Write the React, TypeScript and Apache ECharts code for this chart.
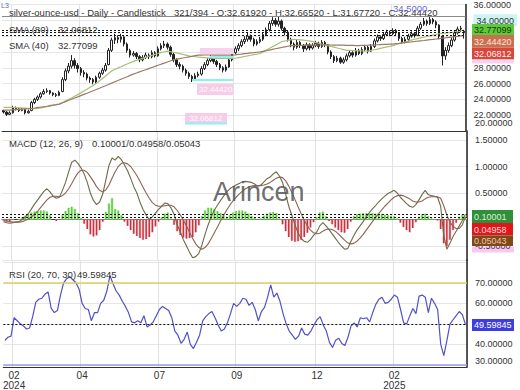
import React, { useEffect, useRef } from "react";
import * as echarts from "echarts";

// ---------- data ----------
const monthTicks: Array<[number, string]> = [
  [3, "02\n2024"], [25, "04"], [50, "07"], [75, "09"], [101, "12"], [126, "02\n2025"],
];

// [open, close, low, high]
const candles: number[][] = [
  [22.6,22.4,22.2,22.7],[22.4,22.1,21.9,22.5],[22.1,22.3,22.0,22.5],[22.3,22.9,22.2,23.2],[22.9,22.8,22.6,23.1],
  [22.8,22.6,22.4,22.9],[22.6,22.7,22.5,22.9],[22.7,22.3,22.1,22.8],[22.3,22.5,22.2,22.7],[22.6,23.6,22.5,23.8],
  [23.6,24.0,23.4,24.2],[24.0,24.3,23.8,24.5],[24.3,24.7,24.1,24.9],[24.7,25.0,24.6,25.3],[25.0,25.1,24.8,25.4],
  [25.1,24.8,24.6,25.2],[24.8,24.6,24.4,24.9],[24.6,24.5,24.3,24.8],[24.5,24.9,24.4,25.1],[25.0,26.5,24.9,26.8],
  [26.5,27.6,26.3,27.9],[27.6,28.2,27.3,28.6],[28.2,28.9,27.9,29.6],[28.9,28.3,27.9,29.2],[28.3,27.9,27.4,28.6],
  [27.9,27.4,27.0,28.1],[27.4,27.2,26.8,27.7],[27.2,26.7,26.4,27.4],[26.7,26.5,26.1,26.9],[26.5,26.2,25.9,26.7],
  [26.2,26.8,26.0,27.0],[26.8,27.3,26.6,27.5],[27.3,27.7,27.1,28.0],[27.7,28.3,27.5,28.6],[28.4,30.2,28.3,30.5],
  [30.2,31.5,30.0,31.8],[31.5,31.8,31.0,32.3],[31.8,31.6,31.1,32.1],[31.6,31.9,31.2,32.3],[31.9,31.0,30.7,32.0],
  [31.0,30.2,29.9,31.2],[30.2,29.6,29.3,30.4],[29.6,29.8,29.4,30.1],[29.8,29.4,29.1,30.0],[29.4,29.0,28.7,29.6],
  [29.0,29.3,28.8,29.6],[29.3,29.6,29.1,29.9],[29.6,29.4,29.1,29.8],[29.4,29.9,29.2,30.2],[29.9,29.5,29.3,30.1],
  [29.5,30.4,29.4,30.7],[30.4,30.8,30.2,31.1],[30.8,31.0,30.5,31.4],[31.0,30.6,30.3,31.2],[30.6,29.7,29.4,30.8],
  [29.7,29.0,28.7,29.9],[29.0,28.4,28.1,29.2],[28.4,28.2,27.8,28.7],[28.2,27.7,27.4,28.4],[27.7,27.3,27.0,27.9],
  [27.3,26.9,26.6,27.5],[26.9,26.6,26.2,27.1],[26.6,27.0,26.4,27.3],[27.0,27.2,26.8,27.5],[27.2,27.9,27.0,28.2],
  [27.9,28.4,27.7,28.7],[28.4,28.9,28.2,29.2],[28.9,29.2,28.7,29.6],[29.2,28.8,28.5,29.4],[28.8,28.4,28.1,29.0],
  [28.4,28.0,27.7,28.6],[28.0,27.7,27.4,28.2],[27.7,28.1,27.5,28.4],[28.1,29.0,28.0,29.3],[29.0,29.9,28.8,30.2],
  [29.9,30.4,29.7,30.7],[30.4,30.8,30.1,31.1],[30.8,31.3,30.6,31.6],[31.3,31.6,31.0,32.0],[31.6,32.0,31.3,32.4],
  [32.0,31.6,31.3,32.2],[31.6,31.0,30.7,31.8],[31.0,31.3,30.8,31.6],[31.3,31.6,31.1,31.9],[31.6,32.2,31.4,32.5],
  [32.2,32.8,32.0,33.1],[32.8,33.6,32.6,33.9],[33.6,34.0,33.3,34.4],[34.0,33.5,33.2,34.3],[33.5,33.9,33.2,34.5],
  [33.9,33.0,32.7,34.1],[33.0,32.5,32.1,33.2],[32.5,31.6,31.3,32.7],[31.6,31.0,30.6,31.8],[31.0,30.6,30.2,31.2],
  [30.6,31.2,30.4,31.5],[31.2,30.8,30.5,31.4],[30.8,30.4,30.0,31.0],[30.4,30.9,30.2,31.2],[30.9,30.5,30.2,31.1],
  [30.5,30.8,30.3,31.1],[30.8,31.1,30.6,31.4],[31.1,30.7,30.4,31.3],[30.7,31.2,30.5,31.5],[31.2,30.9,30.6,31.4],
  [30.9,30.0,29.7,31.0],[30.0,29.4,29.1,30.2],[29.4,28.9,28.6,29.6],[28.9,29.2,28.7,29.5],[29.2,28.7,28.5,29.4],
  [28.7,29.0,28.5,29.3],[29.0,29.5,28.8,29.8],[29.5,29.9,29.3,30.2],[29.9,29.6,29.3,30.1],[29.6,30.2,29.4,30.5],
  [30.2,29.8,29.6,30.4],[29.8,30.3,29.6,30.6],[30.3,30.6,30.1,30.9],[30.6,30.1,29.8,30.8],[30.1,30.7,30.0,31.0],
  [30.7,31.4,30.5,31.7],[31.4,31.9,31.2,32.2],[31.9,31.7,31.4,32.1],[31.7,32.2,31.5,32.5],[32.2,32.5,32.0,32.8],
  [32.5,32.3,32.0,32.7],[32.3,32.7,32.1,33.0],[32.7,32.4,32.1,32.9],[32.4,31.7,31.4,32.5],[31.7,31.3,31.0,31.9],
  [31.3,31.6,31.1,31.9],[31.6,32.0,31.4,32.3],[32.0,32.3,31.8,32.6],[32.3,32.1,31.8,32.5],[32.1,33.0,32.0,33.3],
  [33.0,33.5,32.8,33.8],[33.5,33.9,33.3,34.3],[33.9,33.6,33.3,34.1],[33.6,34.1,33.4,34.5],[34.1,33.8,33.5,34.3],
  [33.8,33.4,33.0,34.0],[33.4,32.0,31.6,33.5],[32.0,29.5,28.3,32.1],[29.5,30.2,29.0,30.6],[30.2,30.8,29.9,31.2],
  [30.8,31.5,30.6,31.8],[31.5,32.4,31.3,32.7],[32.4,32.9,32.2,33.2],[32.9,33.0,32.5,33.3],[32.6192,32.4442,31.6772,32.6652],
];

const sma40: number[] = [
  23.00,23.00,22.99,22.98,22.96,22.94,22.92,22.90,22.87,22.84,
  22.82,22.86,22.92,22.99,23.07,23.15,23.24,23.32,23.40,23.58,
  23.78,23.98,24.18,24.40,24.60,24.82,25.05,25.28,25.52,25.76,
  26.00,26.32,26.64,26.96,27.28,27.60,27.78,27.95,28.12,28.30,
  28.47,28.64,28.80,28.93,29.06,29.19,29.32,29.45,29.57,29.69,
  29.80,29.92,30.02,30.10,30.04,29.96,29.88,29.79,29.70,29.60,
  29.50,29.45,29.40,29.36,29.32,29.28,29.24,29.20,29.19,29.18,
  29.17,29.17,29.17,29.18,29.19,29.20,29.27,29.34,29.42,29.50,
  29.58,29.65,29.72,29.80,30.01,30.22,30.43,30.65,30.86,31.08,
  31.30,31.38,31.46,31.53,31.60,31.57,31.53,31.49,31.45,31.40,
  31.30,31.20,31.10,31.00,30.90,30.80,30.70,30.60,30.50,30.40,
  30.30,30.20,30.19,30.17,30.16,30.14,30.13,30.11,30.10,30.19,
  30.28,30.36,30.45,30.54,30.63,30.71,30.80,30.91,31.03,31.14,
  31.26,31.37,31.49,31.60,31.69,31.78,31.86,31.95,32.04,32.13,
  32.21,32.30,32.34,32.38,32.42,32.46,32.50,32.59,32.68,32.77,
];

const sma80: number[] = [
  22.60,22.63,22.65,22.68,22.71,22.74,22.77,22.80,22.83,22.87,
  22.91,22.96,23.01,23.07,23.13,23.20,23.27,23.33,23.40,23.55,
  23.71,23.86,24.02,24.17,24.32,24.48,24.63,24.78,24.94,25.09,
  25.25,25.40,25.56,25.73,25.89,26.05,26.22,26.38,26.55,26.71,
  26.87,27.04,27.20,27.34,27.48,27.62,27.75,27.89,28.03,28.17,
  28.31,28.45,28.58,28.72,28.86,29.00,29.08,29.15,29.23,29.30,
  29.38,29.45,29.53,29.60,29.60,29.61,29.61,29.61,29.60,29.60,
  29.60,29.60,29.60,29.60,29.60,29.64,29.69,29.73,29.78,29.82,
  29.87,29.91,29.96,30.00,30.08,30.16,30.24,30.32,30.40,30.48,
  30.56,30.64,30.72,30.80,30.81,30.82,30.83,30.84,30.85,30.85,
  30.86,30.87,30.88,30.89,30.90,30.89,30.88,30.87,30.86,30.85,
  30.85,30.84,30.83,30.82,30.81,30.80,30.82,30.84,30.85,30.87,
  30.89,30.91,30.93,30.95,30.96,30.98,31.00,31.05,31.09,31.14,
  31.18,31.23,31.27,31.32,31.36,31.41,31.45,31.50,31.55,31.59,
  31.64,31.69,31.74,31.78,31.83,31.88,31.93,31.97,32.02,32.07,
];

const macdLine: number[] = [
  -0.04,-0.06,-0.07,-0.06,-0.05,-0.04,0.00,0.05,0.11,0.20,
  0.29,0.37,0.45,0.53,0.58,0.52,0.44,0.40,0.42,0.55,
  0.70,0.90,1.08,1.12,1.06,0.97,0.86,0.70,0.50,0.36,
  0.28,0.33,0.48,0.75,1.02,1.16,1.12,1.19,1.13,1.03,
  0.92,0.78,0.62,0.50,0.33,0.19,0.08,0.00,0.05,0.12,
  0.19,0.25,0.31,0.30,0.22,0.10,-0.10,-0.23,-0.38,-0.50,
  -0.62,-0.72,-0.70,-0.64,-0.48,-0.28,-0.10,0.05,0.18,0.27,
  0.36,0.44,0.52,0.58,0.62,0.65,0.68,0.71,0.72,0.71,
  0.70,0.67,0.63,0.65,0.71,0.77,0.80,0.86,0.90,0.82,
  0.70,0.48,0.25,0.08,-0.10,-0.25,-0.36,-0.41,-0.43,-0.38,
  -0.30,-0.24,-0.12,-0.06,-0.12,-0.19,-0.27,-0.35,-0.43,-0.50,
  -0.56,-0.55,-0.42,-0.30,-0.20,-0.12,-0.04,0.05,0.13,0.20,
  0.26,0.33,0.39,0.44,0.49,0.52,0.55,0.50,0.42,0.36,
  0.30,0.25,0.23,0.28,0.37,0.47,0.55,0.47,0.45,0.44,
  0.42,0.25,-0.30,-0.56,-0.45,-0.32,-0.22,-0.12,-0.02,0.10,
];

const signalLine: number[] = [
  -0.02,-0.03,-0.04,-0.05,-0.05,-0.05,-0.04,-0.02,0.01,0.05,
  0.10,0.16,0.23,0.30,0.37,0.42,0.44,0.44,0.43,0.45,
  0.50,0.58,0.68,0.79,0.88,0.93,0.93,0.89,0.81,0.72,
  0.62,0.55,0.52,0.56,0.65,0.78,0.90,1.00,1.06,1.07,
  1.05,1.00,0.92,0.83,0.72,0.61,0.50,0.40,0.32,0.27,
  0.25,0.25,0.26,0.27,0.27,0.24,0.17,0.09,-0.01,-0.12,
  -0.24,-0.36,-0.46,-0.53,-0.56,-0.53,-0.46,-0.36,-0.25,-0.14,
  -0.03,0.08,0.18,0.27,0.35,0.42,0.48,0.53,0.58,0.61,
  0.63,0.64,0.64,0.64,0.65,0.67,0.70,0.74,0.78,0.80,
  0.79,0.73,0.63,0.51,0.38,0.24,0.11,-0.01,-0.12,-0.20,
  -0.25,-0.27,-0.26,-0.22,-0.19,-0.18,-0.19,-0.22,-0.27,-0.33,
  -0.39,-0.44,-0.46,-0.45,-0.41,-0.35,-0.28,-0.20,-0.12,-0.04,
  0.04,0.11,0.18,0.25,0.31,0.37,0.42,0.45,0.46,0.45,
  0.42,0.39,0.35,0.33,0.33,0.35,0.39,0.42,0.43,0.43,
  0.43,0.40,0.26,0.08,-0.05,-0.13,-0.17,-0.17,-0.10,0.05,
];

const histogram: number[] = [
  -0.02,-0.03,-0.03,-0.01,0.00,0.01,0.04,0.07,0.10,0.13,
  0.15,0.16,0.17,0.17,0.15,0.08,0.00,-0.03,-0.01,0.08,
  0.16,0.22,0.24,0.20,0.12,0.03,-0.08,-0.18,-0.28,-0.32,
  -0.30,-0.20,-0.04,0.14,0.30,0.40,0.20,0.17,0.08,-0.04,
  -0.12,-0.20,-0.27,-0.31,-0.35,-0.38,-0.37,-0.33,-0.24,-0.13,
  -0.04,0.04,0.11,0.13,0.02,-0.10,-0.22,-0.29,-0.34,-0.36,
  -0.35,-0.33,-0.24,-0.11,0.06,0.17,0.22,0.22,0.20,0.16,
  0.12,0.08,0.05,0.08,0.13,0.16,0.17,0.17,0.15,0.11,
  0.07,0.03,-0.01,0.02,0.07,0.11,0.13,0.14,0.12,0.02,
  -0.09,-0.22,-0.33,-0.40,-0.42,-0.41,-0.38,-0.33,-0.25,-0.15,
  -0.05,0.04,0.13,0.15,0.06,-0.03,-0.09,-0.15,-0.20,-0.24,
  -0.25,-0.18,-0.04,0.06,0.10,0.11,0.12,0.12,0.11,0.12,
  0.11,0.10,0.11,0.09,0.08,0.07,0.06,0.02,-0.06,-0.14,
  -0.20,-0.24,-0.16,-0.05,0.05,0.10,0.11,0.06,0.02,0.01,
  -0.02,-0.18,-0.45,-0.50,-0.38,-0.20,-0.06,0.05,0.09,0.05,
];

const rsi: number[] = [
  42.0,43.5,44.0,53.0,51.5,50.0,49.0,47.5,48.0,53.5,
  60.5,62.0,62.5,64.5,65.5,57.5,55.5,56.5,64.0,70.0,
  72.0,73.0,71.5,70.0,67.0,60.0,57.5,57.0,51.5,55.5,
  55.5,60.0,61.5,66.0,73.5,69.5,66.0,64.0,61.0,58.5,
  55.5,51.0,50.5,51.5,50.5,54.0,48.5,49.5,51.0,54.0,
  57.0,58.5,57.5,56.5,53.0,46.5,44.5,40.5,42.5,46.0,
  40.0,38.0,41.0,44.5,51.5,53.5,55.0,56.0,53.0,49.5,
  46.5,47.5,50.5,55.0,60.0,58.5,60.0,62.5,62.0,59.0,
  60.5,57.0,51.5,56.0,58.0,63.0,69.0,63.0,65.0,61.0,
  55.0,50.0,46.5,44.5,42.5,44.0,48.0,45.0,44.5,46.5,
  49.5,52.0,53.5,49.5,46.5,41.0,38.5,42.0,43.0,40.5,
  39.5,43.5,49.0,50.5,48.5,53.0,52.5,53.0,51.0,55.5,
  59.5,62.0,63.0,60.0,60.5,62.0,64.0,63.0,57.0,50.5,
  50.0,54.0,57.5,55.0,63.5,64.0,63.0,55.5,62.5,60.0,
  57.0,40.0,34.5,42.0,50.0,52.0,54.0,56.0,54.5,49.6,
];

// last values shown in legends / tags
const priceLevels = { sma40: 32.77099, close: 32.4442, sma80: 32.06812, high: 34.5 };
const macdLevels = { macd: 0.10001, signal: 0.04958, hist: 0.05043, lowTick: -0.5 };
const rsiLevels = { last: 49.59845, upper: 70, lower: 30 };

// ---------- layout ----------
const FONT = '"Liberation Sans", Arial, Helvetica, sans-serif';
const gridL = 2;
const gridR = 53;
const panes = [
  { top: 2, height: 129, min: 20, max: 36 },
  { top: 131, height: 129, min: -0.764, max: 1.67 },
  { top: 260, height: 108, min: 29, max: 81.1 },
];
const paneY = (p: number, v: number) =>
  panes[p].top + (panes[p].height * (panes[p].max - v)) / (panes[p].max - panes[p].min);

const categories = candles.map((_, i) => String(i));
const tickSet = new Set(monthTicks.map((t) => t[0]));
const tickLabel = new Map(monthTicks.map((t) => [t[0], t[1]] as [number, string]));
const isTick = (i: number) => tickSet.has(i);
const isMultiple = (v: number, step: number) => Math.abs(v / step - Math.round(v / step)) < 1e-6;

function txt(x: number, y: number, text: string, size: number, fill: string, extra: any = {}) {
  return {
    type: "text", x, y, z: 100, silent: true,
    style: { text, fill, fontSize: size, fontFamily: FONT, verticalAlign: "middle", ...extra },
  };
}
function box(x: number, y: number, w: number, h: number, fill: string, z = 99) {
  return { type: "rect", z, silent: true, shape: { x, y, width: w, height: h }, style: { fill } };
}

function buildOption(): any {
  const dotted = { type: [2, 2], color: "#111", width: 1 };
  const yBase = (gi: number) => ({
    type: "value", gridIndex: gi, position: "right", min: panes[gi].min, max: panes[gi].max,
    axisLine: { show: true, lineStyle: { color: "#222", width: 1.5 } },
    axisTick: { show: false },
    splitLine: { show: true, lineStyle: { color: "#e6e6e6", width: 1 } },
  });
  const lblBase = { fontSize: 9, color: "#333", fontFamily: FONT, margin: 8 };

  const xAxes: any[] = [0, 1, 2].map((gi) => ({
    type: "category", gridIndex: gi, data: categories, boundaryGap: true,
    axisLine: { show: true, lineStyle: { color: "#333", width: 1 } },
    axisTick: { show: false },
    axisLabel: gi === 2
      ? {
          show: true, interval: (i: number) => isTick(i),
          formatter: (_v: string, i: number) => tickLabel.get(i) || "",
          fontSize: 10, color: "#333", fontFamily: FONT, lineHeight: 10, margin: 3,
        }
      : { show: false },
    splitLine: { show: true, interval: (i: number) => isTick(i), lineStyle: { color: "#e2e2e2" } },
  }));
  // hidden twin axis for the light histogram bands of the MACD pane
  xAxes.push({
    type: "category", gridIndex: 1, data: categories, boundaryGap: true, show: false,
    axisLine: { show: false }, splitLine: { show: false },
  });

  return {
    animation: false,
    backgroundColor: "#ffffff",
    grid: panes.map((p) => ({ left: gridL, right: gridR, top: p.top, height: p.height })),
    xAxis: xAxes,
    yAxis: [
      {
        ...yBase(0), interval: 2,
        axisLabel: {
          ...lblBase, showMinLabel: false,
          formatter: (v: number) =>
            v === 30 || v === 32 ? "" : v === 34 ? `{hi|${v.toFixed(5)}}` : v.toFixed(5),
          rich: { hi: { backgroundColor: "#cdf4f4", padding: [2, 3, 1, 3], fontSize: 9, color: "#333", fontFamily: FONT } },
        },
      },
      {
        ...yBase(1), splitNumber: 5,
        axisLabel: {
          ...lblBase, showMinLabel: false, showMaxLabel: false,
          formatter: (v: number) => (isMultiple(v, 0.5) && v > 0.1 ? v.toFixed(5) : ""),
        },
      },
      {
        ...yBase(2), splitNumber: 5,
        axisLabel: {
          ...lblBase, showMinLabel: false, showMaxLabel: false,
          formatter: (v: number) => (isMultiple(v, 10) && v > 35 && v < 79 ? v.toFixed(5) : ""),
        },
      },
    ],
    series: [
      {
        type: "candlestick", name: "price", xAxisIndex: 0, yAxisIndex: 0, data: candles, barWidth: 2,
        itemStyle: { color: "#ffffff", color0: "#222222", borderColor: "#222222", borderColor0: "#222222", borderWidth: 1 },
        markLine: {
          silent: true, symbol: "none", label: { show: false },
          data: [
            { yAxis: priceLevels.high, lineStyle: { type: "solid", color: "#8a8a8a", width: 1 } },
            { yAxis: priceLevels.sma40, lineStyle: dotted },
            { yAxis: priceLevels.close, lineStyle: dotted },
            { yAxis: priceLevels.sma80, lineStyle: dotted },
          ],
        },
      },
      {
        type: "line", name: "SMA40", xAxisIndex: 0, yAxisIndex: 0, data: sma40, showSymbol: false,
        lineStyle: { color: "#a9bf78", width: 1.2 },
      },
      {
        type: "line", name: "SMA80", xAxisIndex: 0, yAxisIndex: 0, data: sma80, showSymbol: false,
        lineStyle: { color: "#9c7a66", width: 1.2 },
      },
      {
        type: "bar", name: "histBand", xAxisIndex: 3, yAxisIndex: 1, barWidth: "100%", z: 1,
        data: histogram.map((v) => ({ value: v, itemStyle: { color: v >= 0 ? "#cdf5c4" : "#fad3ec" } })),
      },
      {
        type: "bar", name: "hist", xAxisIndex: 1, yAxisIndex: 1, barWidth: 1.5, z: 2,
        data: histogram.map((v) => ({ value: v, itemStyle: { color: v >= 0 ? "#5cc83a" : "#c8372d" } })),
      },
      {
        type: "line", name: "MACD", xAxisIndex: 1, yAxisIndex: 1, data: macdLine, showSymbol: false, z: 3,
        lineStyle: { color: "#6f6a48", width: 1.1 },
        markLine: {
          silent: true, symbol: "none", label: { show: false }, lineStyle: dotted,
          data: [{ yAxis: macdLevels.macd }, { yAxis: macdLevels.signal }, { yAxis: macdLevels.hist }],
        },
      },
      {
        type: "line", name: "Signal", xAxisIndex: 1, yAxisIndex: 1, data: signalLine, showSymbol: false, z: 3,
        lineStyle: { color: "#8d6450", width: 1.1 },
      },
      {
        type: "line", name: "RSI", xAxisIndex: 2, yAxisIndex: 2, data: rsi, showSymbol: false,
        lineStyle: { color: "#5151c8", width: 1.2 },
        markLine: {
          silent: true, symbol: "none", label: { show: false },
          data: [
            { yAxis: rsiLevels.upper, lineStyle: { type: "solid", color: "#d6d35e", width: 1.5 } },
            { yAxis: rsiLevels.lower, lineStyle: { type: "solid", color: "#9a9ae8", width: 1.5 } },
            { yAxis: rsiLevels.last, lineStyle: dotted },
          ],
        },
      },
    ],
    graphic: [
      // faint ghost tags in the price panel
      box(200, 48, 33, 6, "#f7d2ec", 5),
      { type: "line", z: 5, silent: true, shape: { x1: 210, y1: 57, x2: 233, y2: 57 }, style: { stroke: "#8ff0f0", lineWidth: 2 } },
      { type: "line", z: 5, silent: true, shape: { x1: 192, y1: 80, x2: 233, y2: 80 }, style: { stroke: "#8ff0f0", lineWidth: 2 } },
      box(197, 84, 36, 11, "#f7cce9", 5),
      txt(199, 89.5, "32.44420", 8, "#ffffff", { opacity: 0.9 }),
      box(185, 113, 42, 10, "#f7cce9", 5),
      txt(189, 118, "32.06812", 8, "#ffffff", { opacity: 0.9 }),
      { type: "line", z: 5, silent: true, shape: { x1: 185, y1: 123.5, x2: 227, y2: 123.5 }, style: { stroke: "#8ff0f0", lineWidth: 2 } },

      // titles & legends
      txt(1, 5, "L3", 7, "#5a6bbf"),
      txt(9, 12, "silver-ounce-usd - Daily - Candlestick", 9.5, "#333"),
      txt(174, 12, "321/394 - O:32.61920 - H:32.66520 - L:31.67720 - C:32.44420", 9.5, "#333"),
      txt(393, 8.5, "34.5000", 9.5, "#6a6ad8"),
      txt(9, 29, "SMA (80)", 9.5, "#333"),
      txt(58, 29, priceLevels.sma80.toFixed(5), 9.5, "#333"),
      txt(9, 45, "SMA (40)", 9.5, "#333"),
      txt(58, 45, priceLevels.sma40.toFixed(5), 9.5, "#333"),
      txt(9, 143, "MACD (12, 26, 9)", 9.5, "#333"),
      txt(92, 143, `${macdLevels.macd.toFixed(5)}/${macdLevels.signal.toFixed(5)}/${macdLevels.hist.toFixed(5)}`, 9.5, "#333"),
      txt(9, 274, "RSI (20, 70, 30)", 9.5, "#333"),
      txt(77, 274, rsiLevels.last.toFixed(5), 9.5, "#333"),

      // tick labels at the panes' lower edges (lifted to stay inside, as in the picture)
      txt(475, paneY(0, 20) - 8, (20).toFixed(5), 9, "#333"),
      { ...txt(475, paneY(1, macdLevels.lowTick), macdLevels.lowTick.toFixed(5), 9, "#4a3550"), z: 50 },
      {
        type: "group", z: 200, silent: true,
        children: [
          {
            type: "text", x: 475, y: paneY(2, rsiLevels.lower) - 5, z: 200, silent: true,
            style: { text: rsiLevels.lower.toFixed(5), fill: "#333333", fontSize: 9, fontFamily: FONT, verticalAlign: "middle" },
          },
        ],
      },

      // watermark
      txt(213, 192, "Arincen", 27, "#5c5c5c", { opacity: 0.9 }),

      // price tags
      box(472, 24, 42, 11, "#5fc93b"),
      txt(474, 29.5, priceLevels.sma40.toFixed(5), 9, "#17380c"),
      box(472, 35, 42, 12.5, "#c9714f"),
      txt(474, 41.5, priceLevels.close.toFixed(5), 9, "#ffe6e0"),
      box(472, 47.5, 42, 12, "#d9463a"),
      txt(474, 53.5, priceLevels.sma80.toFixed(5), 9, "#fff0ee"),
      box(472, 59.5, 42, 4, "#f6d3f0"),

      // macd tags
      box(472, 246.5, 42, 6, "#f7c9ef", 1),
      box(472, 210, 41, 13, "#2f8f3a"),
      txt(474, 216.5, macdLevels.macd.toFixed(5), 9, "#d9f2d2"),
      box(472, 223, 41, 12.5, "#e3151a"),
      txt(474, 229.5, macdLevels.signal.toFixed(5), 9, "#ffdcdc"),
      box(472, 235.5, 41, 10.5, "#7b4a17"),
      txt(474, 240.5, macdLevels.hist.toFixed(5), 9, "#f5c2b0"),

      // rsi tag
      box(472, 319, 42, 12, "#3d3de0"),
      txt(474, 325, rsiLevels.last.toFixed(5), 9, "#ffffff"),
    ],
  };
}

export default function App() {
  const ref = useRef<HTMLDivElement>(null);
  useEffect(() => {
    if (!ref.current) return;
    const chart = echarts.init(ref.current, null, { renderer: "svg" });
    chart.setOption(buildOption());
    return () => chart.dispose();
  }, []);
  return <div ref={ref} style={{ position: "absolute", left: 0, top: 0, width: 520, height: 390 }} />;
}
